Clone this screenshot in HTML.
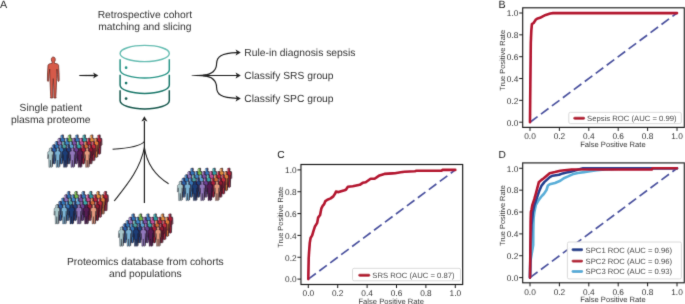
<!DOCTYPE html>
<html><head><meta charset="utf-8"><style>
html,body{margin:0;padding:0;background:#fff;width:685px;height:304px;overflow:hidden;}
svg{display:block;font-family:"Liberation Sans",sans-serif;text-rendering:geometricPrecision;will-change:transform;}
</style></head><body>
<svg width="685" height="304" viewBox="0 0 685 304">
<defs><filter id="soft" x="0" y="0" width="685" height="304" filterUnits="userSpaceOnUse"><feConvolveMatrix order="3" kernelMatrix="0.01134 0.08382 0.01134 0.08382 0.61935 0.08382 0.01134 0.08382 0.01134" edgeMode="none"/></filter></defs>
<g filter="url(#soft)">
<text x="0" y="7.5" font-size="10.7" text-anchor="start" fill="#222" >A</text>
<text x="498.5" y="7.5" font-size="10.7" text-anchor="start" fill="#222" >B</text>
<text x="277.2" y="158.0" font-size="10.2" text-anchor="start" fill="#222" >C</text>
<text x="498.4" y="158.2" font-size="10.2" text-anchor="start" fill="#222" >D</text>
<text x="144.9" y="18.3" font-size="10.3" text-anchor="middle" fill="#333333" >Retrospective cohort</text>
<text x="144.9" y="29.6" font-size="10.3" text-anchor="middle" fill="#333333" >matching and slicing</text>
<text x="50.8" y="111.0" font-size="10.3" text-anchor="middle" fill="#333333" >Single patient</text>
<text x="50.8" y="122.7" font-size="10.3" text-anchor="middle" fill="#333333" >plasma proteome</text>
<text x="145.3" y="264.8" font-size="10.3" text-anchor="middle" fill="#333333" >Proteomics database from cohorts</text>
<text x="145.3" y="277.1" font-size="10.3" text-anchor="middle" fill="#333333" >and populations</text>
<text x="244.3" y="55.8" font-size="10.3" text-anchor="start" fill="#333333" >Rule-in diagnosis sepsis</text>
<text x="244.3" y="78.9" font-size="10.3" text-anchor="start" fill="#333333" >Classify SRS group</text>
<text x="244.3" y="102.1" font-size="10.3" text-anchor="start" fill="#333333" >Classify SPC group</text>
<g transform="translate(53.3,57.0)"><path d="M0,0 C1.2,0 2.0,1.0 2.0,2.5 C2.0,3.6 1.6,4.5 1.1,5.0 L1.2,6.3 C3.5,6.7 5.0,7.0 5.3,8.2 L5.8,17 L5.9,23.3 C5.9,24.6 4.9,24.8 4.6,23.8 L4.2,17.5 L3.6,12 L3.4,21.6 L3.0,31 L2.6,39.5 L2.8,41.0 L0.6,41.0 L0.5,33 L0.1,21.6 L-0.1,21.6 L-0.5,33 L-0.6,41.0 L-2.8,41.0 L-2.6,39.5 L-3.0,31 L-3.4,21.6 L-3.6,12 L-4.2,17.5 L-4.6,23.8 C-4.9,24.8 -5.9,24.6 -5.9,23.3 L-5.8,17 L-5.3,8.2 C-5.0,7.0 -3.5,6.7 -1.2,6.3 L-1.1,5.0 C-1.6,4.5 -2.0,3.6 -2.0,2.5 C-2.0,1.0 -1.2,0 0,0 Z" fill="#d65a48" stroke="#5a2420" stroke-width="0.7" stroke-linejoin="round"/></g>
<path d="M79.3,75.1 L95,74.85 L95,76.15 L79.3,75.9 Z" fill="#222"/>
<path transform="translate(98.3,75.5) rotate(0)" d="M0,0 L-5.2,-3.0 L-3.9000000000000004,0 L-5.2,3.0 Z" fill="#222"/>
<ellipse cx="144.7" cy="53.5" rx="24.6" ry="8.1" fill="none" stroke="#66bdb2" stroke-width="1.4"/>
<path d="M120.1,59.3 L120.1,69.89999999999999 A24.6,8.1 0 0 0 169.29999999999998,69.89999999999999 L169.29999999999998,59.3" fill="none" stroke="#2a9688" stroke-width="1.5"/>
<circle cx="126.1" cy="67.7" r="1.35" fill="#2a9688"/>
<path d="M120.1,74.7 L120.1,85.3 A24.6,8.1 0 0 0 169.29999999999998,85.3 L169.29999999999998,74.7" fill="none" stroke="#1c786b" stroke-width="1.5"/>
<circle cx="126.1" cy="83.10000000000001" r="1.35" fill="#1c786b"/>
<path d="M120.1,90.2 L120.1,100.8 A24.6,8.1 0 0 0 169.29999999999998,100.8 L169.29999999999998,90.2" fill="none" stroke="#16584d" stroke-width="1.5"/>
<circle cx="126.1" cy="98.60000000000001" r="1.35" fill="#16584d"/>
<path d="M191.6,75.25 L206,74.6 L206,76.4 L191.6,75.75 Z" fill="#222"/>
<path d="M196,75.5 L237,75.5" stroke="#222" stroke-width="1.2" fill="none"/>
<path d="M203,75.3 C212,74.5 216.5,70 216.6,63.5 C216.8,56.5 221,53.2 237,52.6" stroke="#222" stroke-width="1.2" fill="none"/>
<path d="M203,75.7 C212,76.5 216.5,81 216.6,87.5 C216.8,94.5 221,97.8 237,98.4" stroke="#222" stroke-width="1.2" fill="none"/>
<path transform="translate(240.8,52.5) rotate(0)" d="M0,0 L-5.2,-3.0 L-3.9000000000000004,0 L-5.2,3.0 Z" fill="#222"/>
<path transform="translate(240.8,75.5) rotate(0)" d="M0,0 L-5.2,-3.0 L-3.9000000000000004,0 L-5.2,3.0 Z" fill="#222"/>
<path transform="translate(240.8,98.5) rotate(0)" d="M0,0 L-5.2,-3.0 L-3.9000000000000004,0 L-5.2,3.0 Z" fill="#222"/>
<path d="M144.4,203 L144.4,121" stroke="#222" stroke-width="1.2" fill="none"/>
<path transform="translate(144.4,116.3) rotate(-90)" d="M0,0 L-5.2,-3.0 L-3.9000000000000004,0 L-5.2,3.0 Z" fill="#222"/>
<path d="M112.6,149.3 C125,148.5 140,147 144.4,141.5" stroke="#222" stroke-width="1.1" fill="none"/>
<path d="M114.2,201 C126,186 140,170 144.4,147.5" stroke="#222" stroke-width="1.1" fill="none"/>
<path d="M168.6,183.8 C156,176 147,165 144.4,147.5" stroke="#222" stroke-width="1.1" fill="none"/>
<defs><path id="p" d="M0,0 C0.85,0 1.2,0.6 1.2,1.4 C1.2,2.1 0.95,2.6 0.75,2.9 C1.8,3.2 2.6,3.5 2.7,4.3 L2.9,10.5 L2.2,10.6 L1.9,6.5 L1.75,11.5 L1.5,19.3 L0.35,19.3 L0,12 L-0.35,19.3 L-1.5,19.3 L-1.75,11.5 L-1.9,6.5 L-2.2,10.6 L-2.9,10.5 L-2.7,4.3 C-2.6,3.5 -1.8,3.2 -0.75,2.9 C-0.95,2.6 -1.2,2.1 -1.2,1.4 C-1.2,0.6 -0.85,0 0,0 Z"/><path id="hl" d="M-0.5,0.5 C-1.0,1.0 -1.0,2.1 -0.6,2.9 L-1.8,3.5 L-2.3,4.4 L-2.4,8" fill="none" stroke="#ffffff" stroke-width="0.7" stroke-opacity="0.65"/></defs>
<use href="#p" x="62.80" y="134.50" fill="#2a1626" fill-opacity="0.8"/><use href="#p" x="61.80" y="135.00" fill="#2f6fb2" stroke="#1c1c28" stroke-width="0.45" stroke-opacity="0.8"/><use href="#hl" x="61.80" y="135.00"/><use href="#p" x="70.15" y="134.50" fill="#2a1626" fill-opacity="0.8"/><use href="#p" x="69.15" y="135.00" fill="#6fb54a" stroke="#1c1c28" stroke-width="0.45" stroke-opacity="0.8"/><use href="#hl" x="69.15" y="135.00"/><use href="#p" x="77.50" y="134.50" fill="#2a1626" fill-opacity="0.8"/><use href="#p" x="76.50" y="135.00" fill="#3475b8" stroke="#1c1c28" stroke-width="0.45" stroke-opacity="0.8"/><use href="#hl" x="76.50" y="135.00"/><use href="#p" x="84.85" y="134.50" fill="#2a1626" fill-opacity="0.8"/><use href="#p" x="83.85" y="135.00" fill="#2f9aa0" stroke="#1c1c28" stroke-width="0.45" stroke-opacity="0.8"/><use href="#hl" x="83.85" y="135.00"/><use href="#p" x="92.20" y="134.50" fill="#2a1626" fill-opacity="0.8"/><use href="#p" x="91.20" y="135.00" fill="#e08a3c" stroke="#1c1c28" stroke-width="0.45" stroke-opacity="0.8"/><use href="#hl" x="91.20" y="135.00"/><use href="#p" x="99.55" y="134.50" fill="#2a1626" fill-opacity="0.8"/><use href="#p" x="98.55" y="135.00" fill="#b01c36" stroke="#1c1c28" stroke-width="0.45" stroke-opacity="0.8"/><use href="#hl" x="98.55" y="135.00"/><use href="#p" x="59.95" y="137.75" fill="#2a1626" fill-opacity="0.8"/><use href="#p" x="58.95" y="138.25" fill="#8a6fb8" stroke="#1c1c28" stroke-width="0.45" stroke-opacity="0.8"/><use href="#hl" x="58.95" y="138.25"/><use href="#p" x="67.30" y="137.75" fill="#2a1626" fill-opacity="0.8"/><use href="#p" x="66.30" y="138.25" fill="#3f86c4" stroke="#1c1c28" stroke-width="0.45" stroke-opacity="0.8"/><use href="#hl" x="66.30" y="138.25"/><use href="#p" x="74.65" y="137.75" fill="#2a1626" fill-opacity="0.8"/><use href="#p" x="73.65" y="138.25" fill="#7b4fa4" stroke="#1c1c28" stroke-width="0.45" stroke-opacity="0.8"/><use href="#hl" x="73.65" y="138.25"/><use href="#p" x="82.00" y="137.75" fill="#2a1626" fill-opacity="0.8"/><use href="#p" x="81.00" y="138.25" fill="#c04d96" stroke="#1c1c28" stroke-width="0.45" stroke-opacity="0.8"/><use href="#hl" x="81.00" y="138.25"/><use href="#p" x="89.35" y="137.75" fill="#2a1626" fill-opacity="0.8"/><use href="#p" x="88.35" y="138.25" fill="#b8213e" stroke="#1c1c28" stroke-width="0.45" stroke-opacity="0.8"/><use href="#hl" x="88.35" y="138.25"/><use href="#p" x="96.70" y="137.75" fill="#2a1626" fill-opacity="0.8"/><use href="#p" x="95.70" y="138.25" fill="#e07a38" stroke="#1c1c28" stroke-width="0.45" stroke-opacity="0.8"/><use href="#hl" x="95.70" y="138.25"/><use href="#p" x="57.10" y="141.00" fill="#2a1626" fill-opacity="0.8"/><use href="#p" x="56.10" y="141.50" fill="#2f74b6" stroke="#1c1c28" stroke-width="0.45" stroke-opacity="0.8"/><use href="#hl" x="56.10" y="141.50"/><use href="#p" x="64.45" y="141.00" fill="#2a1626" fill-opacity="0.8"/><use href="#p" x="63.45" y="141.50" fill="#4aa0a0" stroke="#1c1c28" stroke-width="0.45" stroke-opacity="0.8"/><use href="#hl" x="63.45" y="141.50"/><use href="#p" x="71.80" y="141.00" fill="#2a1626" fill-opacity="0.8"/><use href="#p" x="70.80" y="141.50" fill="#5f9fd0" stroke="#1c1c28" stroke-width="0.45" stroke-opacity="0.8"/><use href="#hl" x="70.80" y="141.50"/><use href="#p" x="79.15" y="141.00" fill="#2a1626" fill-opacity="0.8"/><use href="#p" x="78.15" y="141.50" fill="#3aa6a8" stroke="#1c1c28" stroke-width="0.45" stroke-opacity="0.8"/><use href="#hl" x="78.15" y="141.50"/><use href="#p" x="86.50" y="141.00" fill="#2a1626" fill-opacity="0.8"/><use href="#p" x="85.50" y="141.50" fill="#d06a34" stroke="#1c1c28" stroke-width="0.45" stroke-opacity="0.8"/><use href="#hl" x="85.50" y="141.50"/><use href="#p" x="93.85" y="141.00" fill="#2a1626" fill-opacity="0.8"/><use href="#p" x="92.85" y="141.50" fill="#c32a3c" stroke="#1c1c28" stroke-width="0.45" stroke-opacity="0.8"/><use href="#hl" x="92.85" y="141.50"/><use href="#p" x="54.25" y="144.25" fill="#2a1626" fill-opacity="0.8"/><use href="#p" x="53.25" y="144.75" fill="#2c5fa6" stroke="#1c1c28" stroke-width="0.45" stroke-opacity="0.8"/><use href="#hl" x="53.25" y="144.75"/><use href="#p" x="61.60" y="144.25" fill="#2a1626" fill-opacity="0.8"/><use href="#p" x="60.60" y="144.75" fill="#3576b8" stroke="#1c1c28" stroke-width="0.45" stroke-opacity="0.8"/><use href="#hl" x="60.60" y="144.75"/><use href="#p" x="68.95" y="144.25" fill="#2a1626" fill-opacity="0.8"/><use href="#p" x="67.95" y="144.75" fill="#23427f" stroke="#1c1c28" stroke-width="0.45" stroke-opacity="0.8"/><use href="#hl" x="67.95" y="144.75"/><use href="#p" x="76.30" y="144.25" fill="#2a1626" fill-opacity="0.8"/><use href="#p" x="75.30" y="144.75" fill="#6d3f93" stroke="#1c1c28" stroke-width="0.45" stroke-opacity="0.8"/><use href="#hl" x="75.30" y="144.75"/><use href="#p" x="83.65" y="144.25" fill="#2a1626" fill-opacity="0.8"/><use href="#p" x="82.65" y="144.75" fill="#a61d38" stroke="#1c1c28" stroke-width="0.45" stroke-opacity="0.8"/><use href="#hl" x="82.65" y="144.75"/><use href="#p" x="91.00" y="144.25" fill="#2a1626" fill-opacity="0.8"/><use href="#p" x="90.00" y="144.75" fill="#8e1a2e" stroke="#1c1c28" stroke-width="0.45" stroke-opacity="0.8"/><use href="#hl" x="90.00" y="144.75"/><use href="#p" x="51.40" y="147.50" fill="#2a1626" fill-opacity="0.8"/><use href="#p" x="50.40" y="148.00" fill="#a9c7ca" stroke="#1c1c28" stroke-width="0.45" stroke-opacity="0.8"/><use href="#p" x="58.75" y="147.50" fill="#2a1626" fill-opacity="0.8"/><use href="#p" x="57.75" y="148.00" fill="#7ab3d5" stroke="#1c1c28" stroke-width="0.45" stroke-opacity="0.8"/><use href="#p" x="66.10" y="147.50" fill="#2a1626" fill-opacity="0.8"/><use href="#p" x="65.10" y="148.00" fill="#1f3d77" stroke="#1c1c28" stroke-width="0.45" stroke-opacity="0.8"/><use href="#p" x="73.45" y="147.50" fill="#2a1626" fill-opacity="0.8"/><use href="#p" x="72.45" y="148.00" fill="#9277bb" stroke="#1c1c28" stroke-width="0.45" stroke-opacity="0.8"/><use href="#p" x="80.80" y="147.50" fill="#2a1626" fill-opacity="0.8"/><use href="#p" x="79.80" y="148.00" fill="#561a52" stroke="#1c1c28" stroke-width="0.45" stroke-opacity="0.8"/><use href="#p" x="88.15" y="147.50" fill="#2a1626" fill-opacity="0.8"/><use href="#p" x="87.15" y="148.00" fill="#e59a7e" stroke="#1c1c28" stroke-width="0.45" stroke-opacity="0.8"/>
<use href="#p" x="69.20" y="191.10" fill="#2a1626" fill-opacity="0.8"/><use href="#p" x="68.20" y="191.60" fill="#2f6fb2" stroke="#1c1c28" stroke-width="0.45" stroke-opacity="0.8"/><use href="#hl" x="68.20" y="191.60"/><use href="#p" x="76.55" y="191.10" fill="#2a1626" fill-opacity="0.8"/><use href="#p" x="75.55" y="191.60" fill="#6fb54a" stroke="#1c1c28" stroke-width="0.45" stroke-opacity="0.8"/><use href="#hl" x="75.55" y="191.60"/><use href="#p" x="83.90" y="191.10" fill="#2a1626" fill-opacity="0.8"/><use href="#p" x="82.90" y="191.60" fill="#3475b8" stroke="#1c1c28" stroke-width="0.45" stroke-opacity="0.8"/><use href="#hl" x="82.90" y="191.60"/><use href="#p" x="91.25" y="191.10" fill="#2a1626" fill-opacity="0.8"/><use href="#p" x="90.25" y="191.60" fill="#2f9aa0" stroke="#1c1c28" stroke-width="0.45" stroke-opacity="0.8"/><use href="#hl" x="90.25" y="191.60"/><use href="#p" x="98.60" y="191.10" fill="#2a1626" fill-opacity="0.8"/><use href="#p" x="97.60" y="191.60" fill="#e08a3c" stroke="#1c1c28" stroke-width="0.45" stroke-opacity="0.8"/><use href="#hl" x="97.60" y="191.60"/><use href="#p" x="105.95" y="191.10" fill="#2a1626" fill-opacity="0.8"/><use href="#p" x="104.95" y="191.60" fill="#b01c36" stroke="#1c1c28" stroke-width="0.45" stroke-opacity="0.8"/><use href="#hl" x="104.95" y="191.60"/><use href="#p" x="66.35" y="194.35" fill="#2a1626" fill-opacity="0.8"/><use href="#p" x="65.35" y="194.85" fill="#8a6fb8" stroke="#1c1c28" stroke-width="0.45" stroke-opacity="0.8"/><use href="#hl" x="65.35" y="194.85"/><use href="#p" x="73.70" y="194.35" fill="#2a1626" fill-opacity="0.8"/><use href="#p" x="72.70" y="194.85" fill="#3f86c4" stroke="#1c1c28" stroke-width="0.45" stroke-opacity="0.8"/><use href="#hl" x="72.70" y="194.85"/><use href="#p" x="81.05" y="194.35" fill="#2a1626" fill-opacity="0.8"/><use href="#p" x="80.05" y="194.85" fill="#7b4fa4" stroke="#1c1c28" stroke-width="0.45" stroke-opacity="0.8"/><use href="#hl" x="80.05" y="194.85"/><use href="#p" x="88.40" y="194.35" fill="#2a1626" fill-opacity="0.8"/><use href="#p" x="87.40" y="194.85" fill="#c04d96" stroke="#1c1c28" stroke-width="0.45" stroke-opacity="0.8"/><use href="#hl" x="87.40" y="194.85"/><use href="#p" x="95.75" y="194.35" fill="#2a1626" fill-opacity="0.8"/><use href="#p" x="94.75" y="194.85" fill="#b8213e" stroke="#1c1c28" stroke-width="0.45" stroke-opacity="0.8"/><use href="#hl" x="94.75" y="194.85"/><use href="#p" x="103.10" y="194.35" fill="#2a1626" fill-opacity="0.8"/><use href="#p" x="102.10" y="194.85" fill="#e07a38" stroke="#1c1c28" stroke-width="0.45" stroke-opacity="0.8"/><use href="#hl" x="102.10" y="194.85"/><use href="#p" x="63.50" y="197.60" fill="#2a1626" fill-opacity="0.8"/><use href="#p" x="62.50" y="198.10" fill="#2f74b6" stroke="#1c1c28" stroke-width="0.45" stroke-opacity="0.8"/><use href="#hl" x="62.50" y="198.10"/><use href="#p" x="70.85" y="197.60" fill="#2a1626" fill-opacity="0.8"/><use href="#p" x="69.85" y="198.10" fill="#4aa0a0" stroke="#1c1c28" stroke-width="0.45" stroke-opacity="0.8"/><use href="#hl" x="69.85" y="198.10"/><use href="#p" x="78.20" y="197.60" fill="#2a1626" fill-opacity="0.8"/><use href="#p" x="77.20" y="198.10" fill="#5f9fd0" stroke="#1c1c28" stroke-width="0.45" stroke-opacity="0.8"/><use href="#hl" x="77.20" y="198.10"/><use href="#p" x="85.55" y="197.60" fill="#2a1626" fill-opacity="0.8"/><use href="#p" x="84.55" y="198.10" fill="#3aa6a8" stroke="#1c1c28" stroke-width="0.45" stroke-opacity="0.8"/><use href="#hl" x="84.55" y="198.10"/><use href="#p" x="92.90" y="197.60" fill="#2a1626" fill-opacity="0.8"/><use href="#p" x="91.90" y="198.10" fill="#d06a34" stroke="#1c1c28" stroke-width="0.45" stroke-opacity="0.8"/><use href="#hl" x="91.90" y="198.10"/><use href="#p" x="100.25" y="197.60" fill="#2a1626" fill-opacity="0.8"/><use href="#p" x="99.25" y="198.10" fill="#c32a3c" stroke="#1c1c28" stroke-width="0.45" stroke-opacity="0.8"/><use href="#hl" x="99.25" y="198.10"/><use href="#p" x="60.65" y="200.85" fill="#2a1626" fill-opacity="0.8"/><use href="#p" x="59.65" y="201.35" fill="#2c5fa6" stroke="#1c1c28" stroke-width="0.45" stroke-opacity="0.8"/><use href="#hl" x="59.65" y="201.35"/><use href="#p" x="68.00" y="200.85" fill="#2a1626" fill-opacity="0.8"/><use href="#p" x="67.00" y="201.35" fill="#3576b8" stroke="#1c1c28" stroke-width="0.45" stroke-opacity="0.8"/><use href="#hl" x="67.00" y="201.35"/><use href="#p" x="75.35" y="200.85" fill="#2a1626" fill-opacity="0.8"/><use href="#p" x="74.35" y="201.35" fill="#23427f" stroke="#1c1c28" stroke-width="0.45" stroke-opacity="0.8"/><use href="#hl" x="74.35" y="201.35"/><use href="#p" x="82.70" y="200.85" fill="#2a1626" fill-opacity="0.8"/><use href="#p" x="81.70" y="201.35" fill="#6d3f93" stroke="#1c1c28" stroke-width="0.45" stroke-opacity="0.8"/><use href="#hl" x="81.70" y="201.35"/><use href="#p" x="90.05" y="200.85" fill="#2a1626" fill-opacity="0.8"/><use href="#p" x="89.05" y="201.35" fill="#a61d38" stroke="#1c1c28" stroke-width="0.45" stroke-opacity="0.8"/><use href="#hl" x="89.05" y="201.35"/><use href="#p" x="97.40" y="200.85" fill="#2a1626" fill-opacity="0.8"/><use href="#p" x="96.40" y="201.35" fill="#8e1a2e" stroke="#1c1c28" stroke-width="0.45" stroke-opacity="0.8"/><use href="#hl" x="96.40" y="201.35"/><use href="#p" x="57.80" y="204.10" fill="#2a1626" fill-opacity="0.8"/><use href="#p" x="56.80" y="204.60" fill="#a9c7ca" stroke="#1c1c28" stroke-width="0.45" stroke-opacity="0.8"/><use href="#p" x="65.15" y="204.10" fill="#2a1626" fill-opacity="0.8"/><use href="#p" x="64.15" y="204.60" fill="#7ab3d5" stroke="#1c1c28" stroke-width="0.45" stroke-opacity="0.8"/><use href="#p" x="72.50" y="204.10" fill="#2a1626" fill-opacity="0.8"/><use href="#p" x="71.50" y="204.60" fill="#1f3d77" stroke="#1c1c28" stroke-width="0.45" stroke-opacity="0.8"/><use href="#p" x="79.85" y="204.10" fill="#2a1626" fill-opacity="0.8"/><use href="#p" x="78.85" y="204.60" fill="#9277bb" stroke="#1c1c28" stroke-width="0.45" stroke-opacity="0.8"/><use href="#p" x="87.20" y="204.10" fill="#2a1626" fill-opacity="0.8"/><use href="#p" x="86.20" y="204.60" fill="#561a52" stroke="#1c1c28" stroke-width="0.45" stroke-opacity="0.8"/><use href="#p" x="94.55" y="204.10" fill="#2a1626" fill-opacity="0.8"/><use href="#p" x="93.55" y="204.60" fill="#e59a7e" stroke="#1c1c28" stroke-width="0.45" stroke-opacity="0.8"/>
<use href="#p" x="133.70" y="213.40" fill="#2a1626" fill-opacity="0.8"/><use href="#p" x="132.70" y="213.90" fill="#2f6fb2" stroke="#1c1c28" stroke-width="0.45" stroke-opacity="0.8"/><use href="#hl" x="132.70" y="213.90"/><use href="#p" x="141.05" y="213.40" fill="#2a1626" fill-opacity="0.8"/><use href="#p" x="140.05" y="213.90" fill="#6fb54a" stroke="#1c1c28" stroke-width="0.45" stroke-opacity="0.8"/><use href="#hl" x="140.05" y="213.90"/><use href="#p" x="148.40" y="213.40" fill="#2a1626" fill-opacity="0.8"/><use href="#p" x="147.40" y="213.90" fill="#3475b8" stroke="#1c1c28" stroke-width="0.45" stroke-opacity="0.8"/><use href="#hl" x="147.40" y="213.90"/><use href="#p" x="155.75" y="213.40" fill="#2a1626" fill-opacity="0.8"/><use href="#p" x="154.75" y="213.90" fill="#2f9aa0" stroke="#1c1c28" stroke-width="0.45" stroke-opacity="0.8"/><use href="#hl" x="154.75" y="213.90"/><use href="#p" x="163.10" y="213.40" fill="#2a1626" fill-opacity="0.8"/><use href="#p" x="162.10" y="213.90" fill="#e08a3c" stroke="#1c1c28" stroke-width="0.45" stroke-opacity="0.8"/><use href="#hl" x="162.10" y="213.90"/><use href="#p" x="170.45" y="213.40" fill="#2a1626" fill-opacity="0.8"/><use href="#p" x="169.45" y="213.90" fill="#b01c36" stroke="#1c1c28" stroke-width="0.45" stroke-opacity="0.8"/><use href="#hl" x="169.45" y="213.90"/><use href="#p" x="130.85" y="216.65" fill="#2a1626" fill-opacity="0.8"/><use href="#p" x="129.85" y="217.15" fill="#8a6fb8" stroke="#1c1c28" stroke-width="0.45" stroke-opacity="0.8"/><use href="#hl" x="129.85" y="217.15"/><use href="#p" x="138.20" y="216.65" fill="#2a1626" fill-opacity="0.8"/><use href="#p" x="137.20" y="217.15" fill="#3f86c4" stroke="#1c1c28" stroke-width="0.45" stroke-opacity="0.8"/><use href="#hl" x="137.20" y="217.15"/><use href="#p" x="145.55" y="216.65" fill="#2a1626" fill-opacity="0.8"/><use href="#p" x="144.55" y="217.15" fill="#7b4fa4" stroke="#1c1c28" stroke-width="0.45" stroke-opacity="0.8"/><use href="#hl" x="144.55" y="217.15"/><use href="#p" x="152.90" y="216.65" fill="#2a1626" fill-opacity="0.8"/><use href="#p" x="151.90" y="217.15" fill="#c04d96" stroke="#1c1c28" stroke-width="0.45" stroke-opacity="0.8"/><use href="#hl" x="151.90" y="217.15"/><use href="#p" x="160.25" y="216.65" fill="#2a1626" fill-opacity="0.8"/><use href="#p" x="159.25" y="217.15" fill="#b8213e" stroke="#1c1c28" stroke-width="0.45" stroke-opacity="0.8"/><use href="#hl" x="159.25" y="217.15"/><use href="#p" x="167.60" y="216.65" fill="#2a1626" fill-opacity="0.8"/><use href="#p" x="166.60" y="217.15" fill="#e07a38" stroke="#1c1c28" stroke-width="0.45" stroke-opacity="0.8"/><use href="#hl" x="166.60" y="217.15"/><use href="#p" x="128.00" y="219.90" fill="#2a1626" fill-opacity="0.8"/><use href="#p" x="127.00" y="220.40" fill="#2f74b6" stroke="#1c1c28" stroke-width="0.45" stroke-opacity="0.8"/><use href="#hl" x="127.00" y="220.40"/><use href="#p" x="135.35" y="219.90" fill="#2a1626" fill-opacity="0.8"/><use href="#p" x="134.35" y="220.40" fill="#4aa0a0" stroke="#1c1c28" stroke-width="0.45" stroke-opacity="0.8"/><use href="#hl" x="134.35" y="220.40"/><use href="#p" x="142.70" y="219.90" fill="#2a1626" fill-opacity="0.8"/><use href="#p" x="141.70" y="220.40" fill="#5f9fd0" stroke="#1c1c28" stroke-width="0.45" stroke-opacity="0.8"/><use href="#hl" x="141.70" y="220.40"/><use href="#p" x="150.05" y="219.90" fill="#2a1626" fill-opacity="0.8"/><use href="#p" x="149.05" y="220.40" fill="#3aa6a8" stroke="#1c1c28" stroke-width="0.45" stroke-opacity="0.8"/><use href="#hl" x="149.05" y="220.40"/><use href="#p" x="157.40" y="219.90" fill="#2a1626" fill-opacity="0.8"/><use href="#p" x="156.40" y="220.40" fill="#d06a34" stroke="#1c1c28" stroke-width="0.45" stroke-opacity="0.8"/><use href="#hl" x="156.40" y="220.40"/><use href="#p" x="164.75" y="219.90" fill="#2a1626" fill-opacity="0.8"/><use href="#p" x="163.75" y="220.40" fill="#c32a3c" stroke="#1c1c28" stroke-width="0.45" stroke-opacity="0.8"/><use href="#hl" x="163.75" y="220.40"/><use href="#p" x="125.15" y="223.15" fill="#2a1626" fill-opacity="0.8"/><use href="#p" x="124.15" y="223.65" fill="#2c5fa6" stroke="#1c1c28" stroke-width="0.45" stroke-opacity="0.8"/><use href="#hl" x="124.15" y="223.65"/><use href="#p" x="132.50" y="223.15" fill="#2a1626" fill-opacity="0.8"/><use href="#p" x="131.50" y="223.65" fill="#3576b8" stroke="#1c1c28" stroke-width="0.45" stroke-opacity="0.8"/><use href="#hl" x="131.50" y="223.65"/><use href="#p" x="139.85" y="223.15" fill="#2a1626" fill-opacity="0.8"/><use href="#p" x="138.85" y="223.65" fill="#23427f" stroke="#1c1c28" stroke-width="0.45" stroke-opacity="0.8"/><use href="#hl" x="138.85" y="223.65"/><use href="#p" x="147.20" y="223.15" fill="#2a1626" fill-opacity="0.8"/><use href="#p" x="146.20" y="223.65" fill="#6d3f93" stroke="#1c1c28" stroke-width="0.45" stroke-opacity="0.8"/><use href="#hl" x="146.20" y="223.65"/><use href="#p" x="154.55" y="223.15" fill="#2a1626" fill-opacity="0.8"/><use href="#p" x="153.55" y="223.65" fill="#a61d38" stroke="#1c1c28" stroke-width="0.45" stroke-opacity="0.8"/><use href="#hl" x="153.55" y="223.65"/><use href="#p" x="161.90" y="223.15" fill="#2a1626" fill-opacity="0.8"/><use href="#p" x="160.90" y="223.65" fill="#8e1a2e" stroke="#1c1c28" stroke-width="0.45" stroke-opacity="0.8"/><use href="#hl" x="160.90" y="223.65"/><use href="#p" x="122.30" y="226.40" fill="#2a1626" fill-opacity="0.8"/><use href="#p" x="121.30" y="226.90" fill="#a9c7ca" stroke="#1c1c28" stroke-width="0.45" stroke-opacity="0.8"/><use href="#p" x="129.65" y="226.40" fill="#2a1626" fill-opacity="0.8"/><use href="#p" x="128.65" y="226.90" fill="#7ab3d5" stroke="#1c1c28" stroke-width="0.45" stroke-opacity="0.8"/><use href="#p" x="137.00" y="226.40" fill="#2a1626" fill-opacity="0.8"/><use href="#p" x="136.00" y="226.90" fill="#1f3d77" stroke="#1c1c28" stroke-width="0.45" stroke-opacity="0.8"/><use href="#p" x="144.35" y="226.40" fill="#2a1626" fill-opacity="0.8"/><use href="#p" x="143.35" y="226.90" fill="#9277bb" stroke="#1c1c28" stroke-width="0.45" stroke-opacity="0.8"/><use href="#p" x="151.70" y="226.40" fill="#2a1626" fill-opacity="0.8"/><use href="#p" x="150.70" y="226.90" fill="#561a52" stroke="#1c1c28" stroke-width="0.45" stroke-opacity="0.8"/><use href="#p" x="159.05" y="226.40" fill="#2a1626" fill-opacity="0.8"/><use href="#p" x="158.05" y="226.90" fill="#e59a7e" stroke="#1c1c28" stroke-width="0.45" stroke-opacity="0.8"/>
<use href="#p" x="192.60" y="167.80" fill="#2a1626" fill-opacity="0.8"/><use href="#p" x="191.60" y="168.30" fill="#2f6fb2" stroke="#1c1c28" stroke-width="0.45" stroke-opacity="0.8"/><use href="#hl" x="191.60" y="168.30"/><use href="#p" x="199.95" y="167.80" fill="#2a1626" fill-opacity="0.8"/><use href="#p" x="198.95" y="168.30" fill="#6fb54a" stroke="#1c1c28" stroke-width="0.45" stroke-opacity="0.8"/><use href="#hl" x="198.95" y="168.30"/><use href="#p" x="207.30" y="167.80" fill="#2a1626" fill-opacity="0.8"/><use href="#p" x="206.30" y="168.30" fill="#3475b8" stroke="#1c1c28" stroke-width="0.45" stroke-opacity="0.8"/><use href="#hl" x="206.30" y="168.30"/><use href="#p" x="214.65" y="167.80" fill="#2a1626" fill-opacity="0.8"/><use href="#p" x="213.65" y="168.30" fill="#2f9aa0" stroke="#1c1c28" stroke-width="0.45" stroke-opacity="0.8"/><use href="#hl" x="213.65" y="168.30"/><use href="#p" x="222.00" y="167.80" fill="#2a1626" fill-opacity="0.8"/><use href="#p" x="221.00" y="168.30" fill="#e08a3c" stroke="#1c1c28" stroke-width="0.45" stroke-opacity="0.8"/><use href="#hl" x="221.00" y="168.30"/><use href="#p" x="229.35" y="167.80" fill="#2a1626" fill-opacity="0.8"/><use href="#p" x="228.35" y="168.30" fill="#b01c36" stroke="#1c1c28" stroke-width="0.45" stroke-opacity="0.8"/><use href="#hl" x="228.35" y="168.30"/><use href="#p" x="189.75" y="171.05" fill="#2a1626" fill-opacity="0.8"/><use href="#p" x="188.75" y="171.55" fill="#8a6fb8" stroke="#1c1c28" stroke-width="0.45" stroke-opacity="0.8"/><use href="#hl" x="188.75" y="171.55"/><use href="#p" x="197.10" y="171.05" fill="#2a1626" fill-opacity="0.8"/><use href="#p" x="196.10" y="171.55" fill="#3f86c4" stroke="#1c1c28" stroke-width="0.45" stroke-opacity="0.8"/><use href="#hl" x="196.10" y="171.55"/><use href="#p" x="204.45" y="171.05" fill="#2a1626" fill-opacity="0.8"/><use href="#p" x="203.45" y="171.55" fill="#7b4fa4" stroke="#1c1c28" stroke-width="0.45" stroke-opacity="0.8"/><use href="#hl" x="203.45" y="171.55"/><use href="#p" x="211.80" y="171.05" fill="#2a1626" fill-opacity="0.8"/><use href="#p" x="210.80" y="171.55" fill="#c04d96" stroke="#1c1c28" stroke-width="0.45" stroke-opacity="0.8"/><use href="#hl" x="210.80" y="171.55"/><use href="#p" x="219.15" y="171.05" fill="#2a1626" fill-opacity="0.8"/><use href="#p" x="218.15" y="171.55" fill="#b8213e" stroke="#1c1c28" stroke-width="0.45" stroke-opacity="0.8"/><use href="#hl" x="218.15" y="171.55"/><use href="#p" x="226.50" y="171.05" fill="#2a1626" fill-opacity="0.8"/><use href="#p" x="225.50" y="171.55" fill="#e07a38" stroke="#1c1c28" stroke-width="0.45" stroke-opacity="0.8"/><use href="#hl" x="225.50" y="171.55"/><use href="#p" x="186.90" y="174.30" fill="#2a1626" fill-opacity="0.8"/><use href="#p" x="185.90" y="174.80" fill="#2f74b6" stroke="#1c1c28" stroke-width="0.45" stroke-opacity="0.8"/><use href="#hl" x="185.90" y="174.80"/><use href="#p" x="194.25" y="174.30" fill="#2a1626" fill-opacity="0.8"/><use href="#p" x="193.25" y="174.80" fill="#4aa0a0" stroke="#1c1c28" stroke-width="0.45" stroke-opacity="0.8"/><use href="#hl" x="193.25" y="174.80"/><use href="#p" x="201.60" y="174.30" fill="#2a1626" fill-opacity="0.8"/><use href="#p" x="200.60" y="174.80" fill="#5f9fd0" stroke="#1c1c28" stroke-width="0.45" stroke-opacity="0.8"/><use href="#hl" x="200.60" y="174.80"/><use href="#p" x="208.95" y="174.30" fill="#2a1626" fill-opacity="0.8"/><use href="#p" x="207.95" y="174.80" fill="#3aa6a8" stroke="#1c1c28" stroke-width="0.45" stroke-opacity="0.8"/><use href="#hl" x="207.95" y="174.80"/><use href="#p" x="216.30" y="174.30" fill="#2a1626" fill-opacity="0.8"/><use href="#p" x="215.30" y="174.80" fill="#d06a34" stroke="#1c1c28" stroke-width="0.45" stroke-opacity="0.8"/><use href="#hl" x="215.30" y="174.80"/><use href="#p" x="223.65" y="174.30" fill="#2a1626" fill-opacity="0.8"/><use href="#p" x="222.65" y="174.80" fill="#c32a3c" stroke="#1c1c28" stroke-width="0.45" stroke-opacity="0.8"/><use href="#hl" x="222.65" y="174.80"/><use href="#p" x="184.05" y="177.55" fill="#2a1626" fill-opacity="0.8"/><use href="#p" x="183.05" y="178.05" fill="#2c5fa6" stroke="#1c1c28" stroke-width="0.45" stroke-opacity="0.8"/><use href="#hl" x="183.05" y="178.05"/><use href="#p" x="191.40" y="177.55" fill="#2a1626" fill-opacity="0.8"/><use href="#p" x="190.40" y="178.05" fill="#3576b8" stroke="#1c1c28" stroke-width="0.45" stroke-opacity="0.8"/><use href="#hl" x="190.40" y="178.05"/><use href="#p" x="198.75" y="177.55" fill="#2a1626" fill-opacity="0.8"/><use href="#p" x="197.75" y="178.05" fill="#23427f" stroke="#1c1c28" stroke-width="0.45" stroke-opacity="0.8"/><use href="#hl" x="197.75" y="178.05"/><use href="#p" x="206.10" y="177.55" fill="#2a1626" fill-opacity="0.8"/><use href="#p" x="205.10" y="178.05" fill="#6d3f93" stroke="#1c1c28" stroke-width="0.45" stroke-opacity="0.8"/><use href="#hl" x="205.10" y="178.05"/><use href="#p" x="213.45" y="177.55" fill="#2a1626" fill-opacity="0.8"/><use href="#p" x="212.45" y="178.05" fill="#a61d38" stroke="#1c1c28" stroke-width="0.45" stroke-opacity="0.8"/><use href="#hl" x="212.45" y="178.05"/><use href="#p" x="220.80" y="177.55" fill="#2a1626" fill-opacity="0.8"/><use href="#p" x="219.80" y="178.05" fill="#8e1a2e" stroke="#1c1c28" stroke-width="0.45" stroke-opacity="0.8"/><use href="#hl" x="219.80" y="178.05"/><use href="#p" x="181.20" y="180.80" fill="#2a1626" fill-opacity="0.8"/><use href="#p" x="180.20" y="181.30" fill="#a9c7ca" stroke="#1c1c28" stroke-width="0.45" stroke-opacity="0.8"/><use href="#p" x="188.55" y="180.80" fill="#2a1626" fill-opacity="0.8"/><use href="#p" x="187.55" y="181.30" fill="#7ab3d5" stroke="#1c1c28" stroke-width="0.45" stroke-opacity="0.8"/><use href="#p" x="195.90" y="180.80" fill="#2a1626" fill-opacity="0.8"/><use href="#p" x="194.90" y="181.30" fill="#1f3d77" stroke="#1c1c28" stroke-width="0.45" stroke-opacity="0.8"/><use href="#p" x="203.25" y="180.80" fill="#2a1626" fill-opacity="0.8"/><use href="#p" x="202.25" y="181.30" fill="#9277bb" stroke="#1c1c28" stroke-width="0.45" stroke-opacity="0.8"/><use href="#p" x="210.60" y="180.80" fill="#2a1626" fill-opacity="0.8"/><use href="#p" x="209.60" y="181.30" fill="#561a52" stroke="#1c1c28" stroke-width="0.45" stroke-opacity="0.8"/><use href="#p" x="217.95" y="180.80" fill="#2a1626" fill-opacity="0.8"/><use href="#p" x="216.95" y="181.30" fill="#e59a7e" stroke="#1c1c28" stroke-width="0.45" stroke-opacity="0.8"/>
<rect x="522.7" y="7.8" width="161.5999999999999" height="119.60000000000001" fill="none" stroke="#1a1a1a" stroke-width="1.15"/>
<line x1="530.00" y1="127.4" x2="530.00" y2="130.9" stroke="#1a1a1a" stroke-width="1"/>
<line x1="519.2" y1="122.20" x2="522.7" y2="122.20" stroke="#1a1a1a" stroke-width="1"/>
<text x="530.00" y="139.20" font-size="8.3" text-anchor="middle" fill="#333333">0.0</text>
<text x="518.40" y="125.50" font-size="8.3" text-anchor="end" fill="#333333">0.0</text>
<line x1="559.40" y1="127.4" x2="559.40" y2="130.9" stroke="#1a1a1a" stroke-width="1"/>
<line x1="519.2" y1="100.36" x2="522.7" y2="100.36" stroke="#1a1a1a" stroke-width="1"/>
<text x="559.40" y="139.20" font-size="8.3" text-anchor="middle" fill="#333333">0.2</text>
<text x="518.40" y="103.66" font-size="8.3" text-anchor="end" fill="#333333">0.2</text>
<line x1="588.80" y1="127.4" x2="588.80" y2="130.9" stroke="#1a1a1a" stroke-width="1"/>
<line x1="519.2" y1="78.52" x2="522.7" y2="78.52" stroke="#1a1a1a" stroke-width="1"/>
<text x="588.80" y="139.20" font-size="8.3" text-anchor="middle" fill="#333333">0.4</text>
<text x="518.40" y="81.82" font-size="8.3" text-anchor="end" fill="#333333">0.4</text>
<line x1="618.20" y1="127.4" x2="618.20" y2="130.9" stroke="#1a1a1a" stroke-width="1"/>
<line x1="519.2" y1="56.68" x2="522.7" y2="56.68" stroke="#1a1a1a" stroke-width="1"/>
<text x="618.20" y="139.20" font-size="8.3" text-anchor="middle" fill="#333333">0.6</text>
<text x="518.40" y="59.98" font-size="8.3" text-anchor="end" fill="#333333">0.6</text>
<line x1="647.60" y1="127.4" x2="647.60" y2="130.9" stroke="#1a1a1a" stroke-width="1"/>
<line x1="519.2" y1="34.84" x2="522.7" y2="34.84" stroke="#1a1a1a" stroke-width="1"/>
<text x="647.60" y="139.20" font-size="8.3" text-anchor="middle" fill="#333333">0.8</text>
<text x="518.40" y="38.14" font-size="8.3" text-anchor="end" fill="#333333">0.8</text>
<line x1="677.00" y1="127.4" x2="677.00" y2="130.9" stroke="#1a1a1a" stroke-width="1"/>
<line x1="519.2" y1="13.00" x2="522.7" y2="13.00" stroke="#1a1a1a" stroke-width="1"/>
<text x="677.00" y="139.20" font-size="8.3" text-anchor="middle" fill="#333333">1.0</text>
<text x="518.40" y="16.30" font-size="8.3" text-anchor="end" fill="#333333">1.0</text>
<text x="612.90" y="146.80" font-size="7.6" text-anchor="middle" fill="#333333">False Positive Rate</text>
<text transform="translate(504.60,60.40) rotate(-90)" x="0" y="0" font-size="7.45" text-anchor="middle" fill="#333333">True Positive Rate</text>
<line x1="530.0" y1="122.2" x2="677.0" y2="13.0" stroke="#4a519e" stroke-width="1.7" stroke-dasharray="9.4 4.25"/>
<polyline points="530.00,122.20 530.20,100.00 530.50,70.00 530.80,42.50 531.30,31.00 531.90,24.10 533.60,23.00 535.90,19.50 537.70,18.40 540.00,17.80 542.30,16.60 545.70,14.90 550.30,13.50 553.00,13.10 677.00,13.10" fill="none" stroke="#b3132f" stroke-width="2.6" stroke-linejoin="round" stroke-linecap="round"/>
<rect x="568.8" y="112.3" width="112.5" height="11.299999999999997" rx="1.6" fill="#ffffff" fill-opacity="0.97" stroke="#d6d6d6" stroke-width="0.9"/>
<line x1="574.8" y1="118.2" x2="583.6" y2="118.2" stroke="#b3132f" stroke-width="2.9" stroke-linecap="round"/>
<text x="587.1" y="121.05" font-size="7.7" fill="#333333">Sepsis ROC (AUC = 0.99)</text>
<rect x="300.95" y="164.5" width="161.7" height="120.0" fill="none" stroke="#1a1a1a" stroke-width="1.15"/>
<line x1="308.30" y1="284.5" x2="308.30" y2="288.0" stroke="#1a1a1a" stroke-width="1"/>
<line x1="297.45" y1="279.10" x2="300.95" y2="279.10" stroke="#1a1a1a" stroke-width="1"/>
<text x="308.30" y="296.30" font-size="8.3" text-anchor="middle" fill="#333333">0.0</text>
<text x="296.65" y="282.40" font-size="8.3" text-anchor="end" fill="#333333">0.0</text>
<line x1="337.70" y1="284.5" x2="337.70" y2="288.0" stroke="#1a1a1a" stroke-width="1"/>
<line x1="297.45" y1="257.26" x2="300.95" y2="257.26" stroke="#1a1a1a" stroke-width="1"/>
<text x="337.70" y="296.30" font-size="8.3" text-anchor="middle" fill="#333333">0.2</text>
<text x="296.65" y="260.56" font-size="8.3" text-anchor="end" fill="#333333">0.2</text>
<line x1="367.10" y1="284.5" x2="367.10" y2="288.0" stroke="#1a1a1a" stroke-width="1"/>
<line x1="297.45" y1="235.42" x2="300.95" y2="235.42" stroke="#1a1a1a" stroke-width="1"/>
<text x="367.10" y="296.30" font-size="8.3" text-anchor="middle" fill="#333333">0.4</text>
<text x="296.65" y="238.72" font-size="8.3" text-anchor="end" fill="#333333">0.4</text>
<line x1="396.50" y1="284.5" x2="396.50" y2="288.0" stroke="#1a1a1a" stroke-width="1"/>
<line x1="297.45" y1="213.58" x2="300.95" y2="213.58" stroke="#1a1a1a" stroke-width="1"/>
<text x="396.50" y="296.30" font-size="8.3" text-anchor="middle" fill="#333333">0.6</text>
<text x="296.65" y="216.88" font-size="8.3" text-anchor="end" fill="#333333">0.6</text>
<line x1="425.90" y1="284.5" x2="425.90" y2="288.0" stroke="#1a1a1a" stroke-width="1"/>
<line x1="297.45" y1="191.74" x2="300.95" y2="191.74" stroke="#1a1a1a" stroke-width="1"/>
<text x="425.90" y="296.30" font-size="8.3" text-anchor="middle" fill="#333333">0.8</text>
<text x="296.65" y="195.04" font-size="8.3" text-anchor="end" fill="#333333">0.8</text>
<line x1="455.30" y1="284.5" x2="455.30" y2="288.0" stroke="#1a1a1a" stroke-width="1"/>
<line x1="297.45" y1="169.90" x2="300.95" y2="169.90" stroke="#1a1a1a" stroke-width="1"/>
<text x="455.30" y="296.30" font-size="8.3" text-anchor="middle" fill="#333333">1.0</text>
<text x="296.65" y="173.20" font-size="8.3" text-anchor="end" fill="#333333">1.0</text>
<text x="391.20" y="303.90" font-size="7.6" text-anchor="middle" fill="#333333">False Positive Rate</text>
<text transform="translate(282.85,217.30) rotate(-90)" x="0" y="0" font-size="7.45" text-anchor="middle" fill="#333333">True Positive Rate</text>
<line x1="308.3" y1="279.1" x2="455.3" y2="169.90000000000003" stroke="#4a519e" stroke-width="1.7" stroke-dasharray="9.4 4.25"/>
<polyline points="308.30,279.10 308.50,268.00 308.70,258.00 308.90,254.50 309.30,249.20 309.80,242.60 310.60,238.00 312.20,235.40 313.50,230.80 314.80,226.80 317.20,222.90 318.10,217.60 320.10,215.00 320.60,212.20 321.40,208.30 322.80,205.70 324.10,204.30 325.40,201.10 327.40,199.70 330.70,198.40 333.30,196.40 335.30,193.20 335.90,191.60 338.60,192.10 341.20,191.20 344.50,190.20 345.90,189.70 347.90,186.70 352.80,186.20 359.70,184.80 362.70,182.80 365.70,182.30 370.60,178.80 374.60,178.80 379.50,175.40 384.40,173.90 392.30,173.40 395.00,173.20 400.70,172.30 404.50,171.70 414.90,171.30 415.90,170.80 441.50,170.80 442.40,169.90 455.30,169.90" fill="none" stroke="#b3132f" stroke-width="2.6" stroke-linejoin="round" stroke-linecap="round"/>
<rect x="352.5" y="268.3" width="108.10000000000002" height="12.5" rx="1.6" fill="#ffffff" fill-opacity="0.97" stroke="#d6d6d6" stroke-width="0.9"/>
<line x1="359.79999999999995" y1="275.3" x2="368.8" y2="275.3" stroke="#b3132f" stroke-width="2.9" stroke-linecap="round"/>
<text x="372.3" y="278.15000000000003" font-size="7.7" fill="#333333">SRS ROC (AUC = 0.87)</text>
<rect x="522.7" y="162.9" width="161.5999999999999" height="119.9" fill="none" stroke="#1a1a1a" stroke-width="1.15"/>
<line x1="530.00" y1="282.8" x2="530.00" y2="286.3" stroke="#1a1a1a" stroke-width="1"/>
<line x1="519.2" y1="277.60" x2="522.7" y2="277.60" stroke="#1a1a1a" stroke-width="1"/>
<text x="530.00" y="294.60" font-size="8.3" text-anchor="middle" fill="#333333">0.0</text>
<text x="518.40" y="280.90" font-size="8.3" text-anchor="end" fill="#333333">0.0</text>
<line x1="559.40" y1="282.8" x2="559.40" y2="286.3" stroke="#1a1a1a" stroke-width="1"/>
<line x1="519.2" y1="255.74" x2="522.7" y2="255.74" stroke="#1a1a1a" stroke-width="1"/>
<text x="559.40" y="294.60" font-size="8.3" text-anchor="middle" fill="#333333">0.2</text>
<text x="518.40" y="259.04" font-size="8.3" text-anchor="end" fill="#333333">0.2</text>
<line x1="588.80" y1="282.8" x2="588.80" y2="286.3" stroke="#1a1a1a" stroke-width="1"/>
<line x1="519.2" y1="233.88" x2="522.7" y2="233.88" stroke="#1a1a1a" stroke-width="1"/>
<text x="588.80" y="294.60" font-size="8.3" text-anchor="middle" fill="#333333">0.4</text>
<text x="518.40" y="237.18" font-size="8.3" text-anchor="end" fill="#333333">0.4</text>
<line x1="618.20" y1="282.8" x2="618.20" y2="286.3" stroke="#1a1a1a" stroke-width="1"/>
<line x1="519.2" y1="212.02" x2="522.7" y2="212.02" stroke="#1a1a1a" stroke-width="1"/>
<text x="618.20" y="294.60" font-size="8.3" text-anchor="middle" fill="#333333">0.6</text>
<text x="518.40" y="215.32" font-size="8.3" text-anchor="end" fill="#333333">0.6</text>
<line x1="647.60" y1="282.8" x2="647.60" y2="286.3" stroke="#1a1a1a" stroke-width="1"/>
<line x1="519.2" y1="190.16" x2="522.7" y2="190.16" stroke="#1a1a1a" stroke-width="1"/>
<text x="647.60" y="294.60" font-size="8.3" text-anchor="middle" fill="#333333">0.8</text>
<text x="518.40" y="193.46" font-size="8.3" text-anchor="end" fill="#333333">0.8</text>
<line x1="677.00" y1="282.8" x2="677.00" y2="286.3" stroke="#1a1a1a" stroke-width="1"/>
<line x1="519.2" y1="168.30" x2="522.7" y2="168.30" stroke="#1a1a1a" stroke-width="1"/>
<text x="677.00" y="294.60" font-size="8.3" text-anchor="middle" fill="#333333">1.0</text>
<text x="518.40" y="171.60" font-size="8.3" text-anchor="end" fill="#333333">1.0</text>
<text x="612.90" y="302.20" font-size="7.6" text-anchor="middle" fill="#333333">False Positive Rate</text>
<text transform="translate(504.60,215.65) rotate(-90)" x="0" y="0" font-size="7.45" text-anchor="middle" fill="#333333">True Positive Rate</text>
<line x1="530.0" y1="277.6" x2="677.0" y2="168.3" stroke="#4a519e" stroke-width="1.7" stroke-dasharray="9.4 4.25"/>
<polyline points="530.00,277.60 530.30,262.00 533.20,245.00 533.30,230.00 533.60,218.00 534.40,211.70 535.90,204.80 538.80,199.90 541.80,196.00 543.80,194.00 546.50,190.00 547.90,185.50 549.70,184.30 555.00,183.00 560.30,180.80 563.80,178.20 568.10,176.40 572.50,174.30 577.80,173.00 583.90,172.10 590.00,171.20 597.00,170.30 605.00,169.50 620.00,168.80 677.00,168.30" fill="none" stroke="#5aaed8" stroke-width="2.6" stroke-linejoin="round" stroke-linecap="round"/>
<polyline points="530.00,277.60 530.50,250.00 531.50,225.00 532.90,211.70 534.40,204.80 536.90,197.90 538.80,192.00 539.30,190.70 541.50,185.80 544.30,182.10 549.80,177.10 552.60,175.70 559.00,174.80 562.70,173.40 566.40,172.50 569.50,172.00 572.50,171.20 583.00,168.20 677.00,168.20" fill="none" stroke="#23408e" stroke-width="2.6" stroke-linejoin="round" stroke-linecap="round"/>
<polyline points="530.00,277.60 530.40,250.00 530.60,222.00 530.90,212.00 531.50,209.80 532.40,204.80 534.40,198.90 536.00,193.00 538.80,182.30 541.50,179.90 543.80,178.30 549.70,173.20 555.00,172.10 560.30,170.80 571.60,169.50 652.00,169.50 652.50,168.30 677.00,168.30" fill="none" stroke="#b3132f" stroke-width="2.6" stroke-linejoin="round" stroke-linecap="round"/>
<rect x="567.4" y="242.0" width="114.0" height="36.89999999999998" rx="1.6" fill="#ffffff" fill-opacity="0.97" stroke="#d6d6d6" stroke-width="0.9"/>
<line x1="573.0" y1="249.7" x2="581.7" y2="249.7" stroke="#23408e" stroke-width="2.9" stroke-linecap="round"/>
<text x="585.6" y="252.54999999999998" font-size="7.7" fill="#333333">SPC1 ROC (AUC = 0.96)</text>
<line x1="573.0" y1="261.1" x2="581.7" y2="261.1" stroke="#b3132f" stroke-width="2.9" stroke-linecap="round"/>
<text x="585.6" y="263.95000000000005" font-size="7.7" fill="#333333">SPC2 ROC (AUC = 0.96)</text>
<line x1="573.0" y1="271.5" x2="581.7" y2="271.5" stroke="#5aaed8" stroke-width="2.9" stroke-linecap="round"/>
<text x="585.6" y="274.35" font-size="7.7" fill="#333333">SPC3 ROC (AUC = 0.93)</text>
</g>
</svg>
</body></html>
